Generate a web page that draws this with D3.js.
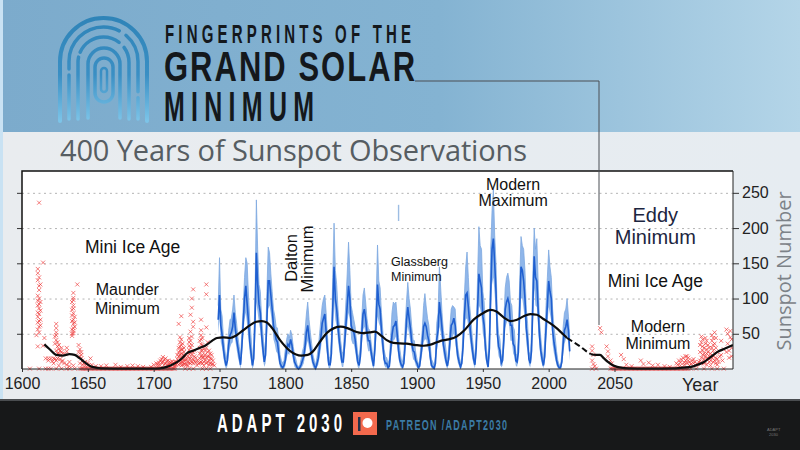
<!DOCTYPE html>
<head>
   <meta charset="utf-8">
   <script src="https://d3js.org/d3.v7.min.js"></script>
   <style>
   html, body{ margin: 0; padding: 0; background: #e9edf0; overflow: hidden; }
   svg{ display: block; }
   text{ font-family: "Liberation Sans", Arial, sans-serif; fill: #111; }
   .tick text{ font-size: 16px; fill: #222; }
   .tick line{ stroke: #333; }
   path.domain{ display: none; }
   .grid line{ stroke: #b4b4b4; stroke-dasharray: 2 3.5; }
   text.note{ text-anchor: middle; }
   text.head{ font-weight: 700; fill: #14181c; }
   </style>
</head>

<body>
   <script>
const width = 800;
const height = 450;

const xTicks = [1600, 1650, 1700, 1750, 1800, 1850, 1900, 1950, 2000, 2050];
const yTicks = [50, 100, 150, 200, 250];

const blueStart = 1749; //first year of the three lists below

//top of the monthly band, one value per year
const sunspotHigh = [90,158,85,75,45,28,14,25,55,70,72,85,105,80,65,45,32,18,50,88,130,158,150,105,70,45,15,35,105,240,170,120,110,72,50,25,40,110,173,165,135,110,85,75,60,58,40,20,12,8,12,28,42,50,44,55,48,32,20,14,6,3,6,14,25,32,55,78,95,70,52,36,20,12,6,16,30,50,70,90,100,105,80,48,18,16,45,130,207,140,120,85,62,40,25,22,60,95,135,180,140,90,80,70,60,40,22,14,35,70,105,115,95,72,58,55,40,25,12,50,100,176,125,115,80,55,28,18,16,8,14,45,80,95,92,95,72,45,28,14,10,22,60,95,123,100,85,60,42,40,24,14,6,12,35,55,90,107,88,72,62,35,14,10,5,18,65,80,145,115,80,55,42,28,10,28,60,85,90,88,85,50,30,18,8,16,55,105,145,166,130,90,70,45,28,14,50,130,202,175,170,110,95,48,25,10,55,170,225,255,190,150,75,50,42,15,22,70,115,130,136,125,95,90,60,55,22,20,45,125,188,175,170,140,85,65,25,18,50,135,200,170,185,125,70,45,25,12,40,90,130,169,145,130,85,60,45,25,12,6,5,20,60,80,85,100,75,45];

//middle of the band, same years
const sunspotMean = [70,105,62,48,28,14,5,12,35,48,52,60,80,58,42,30,18,6,32,65,100,118,92,68,38,22,5,15,70,165,120,92,80,48,28,10,20,70,125,125,105,85,62,52,42,38,22,8,4,2,5,12,28,35,32,42,34,20,10,6,2,0,2,6,12,18,32,52,62,45,32,20,10,5,1,7,15,30,45,65,72,78,52,26,6,6,22,85,145,100,85,60,40,24,10,10,35,62,90,118,100,62,55,52,42,24,10,5,18,48,78,85,72,52,40,40,26,14,4,28,65,120,92,85,55,36,14,8,8,2,4,26,48,60,62,68,48,26,12,6,3,8,35,68,88,72,58,38,26,24,12,8,2,4,20,36,60,65,60,48,40,18,5,3,1,8,42,55,95,78,58,35,24,12,4,14,38,62,65,72,62,34,18,10,3,8,32,75,105,108,88,65,45,28,14,6,30,85,135,125,115,75,62,28,12,3,30,110,170,185,150,110,50,32,26,8,12,42,85,95,100,92,62,62,36,32,12,10,24,85,145,140,125,100,58,40,14,8,26,90,160,130,125,85,48,26,14,5,18,58,90,125,110,100,55,38,26,12,5,2,2,10,35,55,60,70,55,25];

//bottom of the band, same years
const sunspotLow = [50,72,38,30,15,5,0,4,20,30,36,38,55,40,28,16,8,0,18,45,70,80,62,42,22,10,0,5,40,95,80,65,55,30,14,3,8,45,85,90,78,62,42,35,25,22,10,2,0,0,0,4,15,22,20,30,22,10,3,1,0,0,0,1,4,8,18,32,40,30,20,10,3,0,0,2,6,16,28,45,50,52,32,12,1,1,10,50,95,70,60,40,25,12,3,3,20,42,62,80,70,42,36,35,26,12,3,0,8,30,55,60,50,35,25,26,14,6,0,14,42,75,65,60,35,22,6,2,2,0,0,12,30,40,42,46,30,14,5,1,0,2,20,45,60,50,38,24,14,12,5,2,0,0,10,22,38,42,42,32,24,8,1,0,0,2,25,35,60,52,38,22,12,5,0,6,22,42,45,50,42,20,9,4,0,2,18,50,70,72,60,44,28,15,6,1,16,55,90,85,75,50,40,15,5,0,16,70,120,130,105,75,32,18,14,2,5,25,58,65,70,62,40,40,22,18,5,3,12,55,100,100,85,68,36,24,6,2,14,60,115,90,88,58,30,14,6,1,8,38,60,88,78,68,35,22,14,5,1,0,0,4,20,35,42,48,35,12];

//stray piece of the band, above the 1880s cycles
const strayYears = [1886, 1886];
const strayValues = [210, 233];

//smoothed curve
const smoothYears = [1617,1621,1626,1631,1636,1640,1644,1648,1652,1656,1660,1680,1700,1705,1710,1714,1718,1722,1725,1730,1735,1740,1745,1748,1753,1758,1763,1768,1773,1778,1782,1786,1790,1796,1804,1812,1817,1821,1826,1832,1837,1842,1847,1852,1859,1864,1868,1873,1877,1882,1892,1899,1905,1911,1918,1924,1930,1936,1943,1949,1956,1960,1966,1971,1976,1981,1986,1991,1996,2001,2006,2010,2014];
const smoothValues = [35,28,20,19,21,20,15,9,4,2,1,0.5,0.5,1,3,6,10,16,22,26,30,34,41,44,45,44,48,55,62,67,68,66,58,41,25,19,20,25,38,52,58,60,58,54,51,52,53,47,41,37,36,34,33,35,40,42,46,55,70,78,84,82,73,68,70,75,78,77,71,65,58,51,44];

const dashYears = [2014, 2019, 2024, 2028, 2032];
const dashValues = [44, 38, 32, 26, 21];

const lateYears = [2032,2036,2039,2042,2045,2048,2052,2056,2060,2075,2097,2102,2108,2113,2118,2123,2128,2134,2140];
const lateValues = [21,20,20,15,10,6,3,1.5,1,0.5,1,2,3,6,10,17,24,29,34];

//red crosses, [year, sunspot number]
const crossesEarly = [
  [1613,236],[1616,151],[1612,136],[1613,130],[1612,126],[1614,120],[1613,112],[1612,104],[1613,100],[1614,95],[1612,90],[1613,86],[1613,78],[1612,74],[1614,70],[1612,66],[1613,60],[1612,56],[1613,52],[1611,48],[1617,44],[1612,32],[1616,33],
  [1626,64],[1626,58],[1626,52],[1625,46],[1626,41],[1625,36],[1627,32],[1628,28],[1629,26],[1630,24],[1627,22],[1629,19],[1634,30],[1634,25],[1633,21],[1618,15],[1620,15],[1622,15],[1624,15],[1625,14],[1627,15],[1629,14],[1631,12],[1624,8],[1628,5],[1632,8],[1636,10],[1639,5],
  [1642,120],[1639,108],[1639,101],[1638,95],[1639,90],[1638,84],[1639,79],[1640,74],[1638,68],[1639,64],[1640,60],[1638,56],[1639,51],[1638,47],[1643,34],[1644,28],[1643,24],[1645,20],[1645,15],[1646,12],[1644,8],[1647,8],[1648,5],[1652,15],[1650,5],[1656,4],[1660,4],[1664,5],[1671,6],[1675,3],[1680,4],[1684,5],[1688,4],[1692,3],
  [1698,3],[1700,6],[1702,8],[1703,4],[1705,12],[1706,9],[1707,17],[1708,13],[1709,8],[1710,11],[1711,6],[1712,10],[1713,4],[1714,7],[1716,5],
  [1717,10],[1718,14],[1719,24],[1719,18],[1720,45],[1720,38],[1720,32],[1721,28],[1721,22],[1721,15],[1722,20],[1722,10],[1723,16],[1723,7],[1719,64],[1721,75],[1724,12],[1725,6],
  [1727,44],[1727,38],[1727,33],[1727,27],[1727,21],[1728,53],[1728,77],[1728,15],[1729,100],[1729,87],[1729,10],[1730,113],[1730,67],[1730,60],[1730,24],[1731,18],[1732,9],[1733,5],
  [1735,30],[1735,22],[1736,70],[1736,55],[1736,48],[1736,42],[1737,34],[1737,26],[1737,16],[1738,10],[1739,20],[1740,120],[1740,106],[1740,59],[1741,38],[1741,24],[1742,18],[1742,12],[1743,22],[1744,14],[1745,7]
];

//the same clusters where the crosses pile up
const crossesDense = [
  [1612,142],[1613,118],[1612,97],[1613,92],[1614,83],[1612,80],[1613,68],[1614,62],[1639,98],[1639,86],[1638,76],[1639,70],[1640,66],[1639,58],[1639,54],[1638,50],[1626,48],[1627,38],[1628,34],[1630,30],[1631,22],[1626,26],[1628,22],[1620,12],[1623,11],[1626,12],[1630,10],[1634,6],[1636,4],[1644,18],[1645,24],[1646,6],[1648,10],[1650,9],[1653,6],
  [1703,7],[1704,9],[1705,5],[1706,14],[1707,10],[1708,6],[1709,15],[1710,5],[1711,12],[1712,7],[1713,9],[1714,11],[1715,8],[1716,10],[1716,3],[1717,6],[1718,8],[1718,20],[1719,12],[1719,6],[1719,30],[1720,26],[1720,20],[1720,14],[1720,8],[1721,34],[1721,42],[1721,10],[1721,5],[1722,28],[1722,36],[1722,15],[1722,6],[1723,24],[1723,12],[1723,30],[1724,18],[1724,7],[1725,14],[1726,18],[1726,10],[1726,5],[1727,15],[1727,9],[1728,30],[1728,24],[1728,40],[1728,8],[1729,46],[1729,20],[1729,34],[1730,14],[1730,8],[1731,26],[1731,11],[1732,16],[1733,12],[1734,8],[1735,40],[1735,15],[1735,9],[1736,35],[1736,26],[1736,18],[1736,10],[1737,44],[1737,20],[1737,8],[1738,30],[1738,16],[1738,5],[1739,26],[1739,12],[1740,30],[1740,16],[1740,8],[1741,18],[1741,10],[1742,26],[1742,6],[1743,15],[1743,8],[1744,20],[1744,7],[1745,12],[1746,5],
  [2098,6],[2100,9],[2101,13],[2103,6],[2104,12],[2104,18],[2105,8],[2106,16],[2107,10],[2107,5],[2109,12],[2110,8],[2111,10],[2113,7],[2115,12],[2115,24],[2115,34],[2116,16],[2116,8],[2117,42],[2118,30],[2118,22],[2119,36],[2119,18],[2119,10],[2120,40],[2120,14],[2120,6],[2121,34],[2121,24],[2122,30],[2122,18],[2123,22],[2123,12],[2124,30],[2124,16],[2125,44],[2125,10],[2126,36],[2126,22],[2127,16],[2127,8],[2128,24],[2128,14],[2129,10],[2130,18],[2132,12],[2135,24],[2137,16],[2139,42]
];

const crossesLate = [
  [2039,58],[2040,52],[2033,32],[2033,26],[2034,20],[2033,12],[2034,7],[2035,4],[2044,32],[2045,25],[2045,18],[2047,12],[2048,8],[2055,20],[2057,14],[2059,6],[2063,4],[2070,12],[2072,7],[2076,9],[2079,5],[2083,6],[2088,4],[2092,3],
  [2097,8],[2099,12],[2100,5],[2102,16],[2103,9],[2105,18],[2106,12],[2108,7],[2110,14],[2112,5],[2114,10],
  [2116,46],[2116,38],[2117,32],[2117,26],[2117,20],[2118,14],[2118,8],[2119,44],[2120,28],[2120,22],[2121,16],[2122,10],[2123,5],[2124,48],[2124,40],[2125,34],[2125,26],[2125,18],[2126,52],[2126,12],[2127,44],[2127,30],[2128,6],[2131,40],[2131,20],[2133,28],[2135,56],[2136,50],[2136,36],[2137,26],[2138,54],[2138,45],[2139,18],[2139,30]
];

//crosses lying on the axis
const crossesZero = [1606,1613,1618,1620,1622,1626,1630,1634,1636,1640,1644,1645,1646,1647,1648,1649,1650,1651,1652,1653,1654,1655,1656,1657,1658,1659,1660,1661,1662,1663,1664,1665,1666,1667,1668,1669,1670,1671,1672,1673,1674,1675,1676,1677,1678,1679,1680,1681,1682,1683,1684,1685,1686,1687,1688,1689,1690,1691,1692,1693,1694,1695,1696,1697,1698,1699,1700,1701,1702,1703,1704,1705,1706,1707,1708,1709,1710,1711,1712,1713,1714,1715,1716,1724,1727,1730,1737,1740,1743,2033,2036,2047,2048,2049,2050,2051,2052,2053,2054,2055,2056,2057,2058,2059,2060,2061,2062,2063,2064,2065,2066,2067,2068,2069,2070,2071,2072,2073,2074,2075,2076,2077,2078,2079,2080,2081,2082,2083,2084,2085,2086,2087,2088,2089,2090,2091,2092,2093,2094,2095,2096,2097,2098,2099,2100,2101,2102,2103,2104,2105,2106,2108,2112,2118,2124,2128,2133];

//text on the plot: label lines, year, value of each baseline
const notes = [
  {text: "Mini Ice Age", year: 1684, value: 165, size: 17.5},
  {text: "Maunder", year: 1680, value: 105, size: 16},
  {text: "Minimum", year: 1680, value: 78, size: 16},
  {text: "Modern", year: 1973, value: 254, size: 16},
  {text: "Maximum", year: 1973, value: 231, size: 16},
  {text: "Eddy", year: 2081, value: 208, size: 20, color: "#1c2540"},
  {text: "Minimum", year: 2081, value: 178, size: 20, color: "#1c2540"},
  {text: "Mini Ice Age", year: 2081, value: 117, size: 17.5},
  {text: "Modern", year: 2083, value: 52, size: 16},
  {text: "Minimum", year: 2083, value: 28, size: 16}
];

let svg = d3.select("body").append("svg")
   .attr("width", width)
   .attr("height", height);

const defs = svg.append("defs");

const headGrad = defs.append("linearGradient").attr("id", "headGrad");
headGrad.append("stop").attr("offset", "0%").attr("stop-color", "#7cabcc");
headGrad.append("stop").attr("offset", "55%").attr("stop-color", "#84b3d2");
headGrad.append("stop").attr("offset", "100%").attr("stop-color", "#b4d5e8");

const pageGrad = defs.append("linearGradient").attr("id", "pageGrad");
pageGrad.append("stop").attr("offset", "0%").attr("stop-color", "#e9ecef");
pageGrad.append("stop").attr("offset", "100%").attr("stop-color", "#e6ecf1");

const printGrad = defs.append("linearGradient").attr("id", "printGrad")
   .attr("gradientUnits", "userSpaceOnUse")
   .attr("x1", 0).attr("x2", 0).attr("y1", 18).attr("y2", 121);
printGrad.append("stop").attr("offset", "0%").attr("stop-color", "#2f84b8");
printGrad.append("stop").attr("offset", "55%").attr("stop-color", "#3a8fc4");
printGrad.append("stop").attr("offset", "100%").attr("stop-color", "#7cc4e8");

// page bands
svg.append("rect").attr("width", width).attr("height", 400).attr("fill", "url(#pageGrad)");
svg.append("rect").attr("width", width).attr("height", 132).attr("fill", "url(#headGrad)");
svg.append("rect").attr("width", 3).attr("height", 400).attr("fill", "#c9e2f3");
svg.append("rect").attr("y", 401).attr("width", width).attr("height", 49).attr("fill", "#171819");
svg.append("rect").attr("y", 399).attr("width", width).attr("height", 2).attr("fill", "#4a4d50");

// fingerprint logo, nested arches
const logo = svg.append("g")
   .attr("fill", "none")
   .attr("stroke", "url(#printGrad)")
   .attr("stroke-linecap", "round");

[[60,18,87,103,4,"0"],[69,27,69,92,3.5,"44 6 78 8 60 6 200"],[78,37,51,82,3.5,"62 5 46 7 200"],[88,48,32,70,3.5,"0"]].forEach(d => {
   logo.append("path")
      .attr("d", `M${d[0]},${d[1]+d[3]} V${d[1]+d[2]/2} a${d[2]/2},${d[2]/2} 0 0 1 ${d[2]},0 V${d[1]+d[3]}`)
      .attr("stroke-width", d[4])
      .attr("stroke-dasharray", d[5] == "0" ? null : d[5]);
});
logo.append("rect").attr("x", 95).attr("y", 58).attr("width", 18).attr("height", 44).attr("rx", 9).attr("stroke-width", 3.5);
logo.append("rect").attr("x", 101).attr("y", 68).attr("width", 6).attr("height", 24).attr("rx", 3).attr("stroke-width", 2.5);

// heading, the font is squeezed to get the tall narrow letters
function squeezed(txt, left, base, size, scale, wide, weight, color){
   svg.append("text")
      .attr("class", "head")
      .attr("transform", `translate(${left},${base}) scale(${scale},1)`)
      .attr("textLength", wide / scale)
      .attr("lengthAdjust", "spacing")
      .style("font-size", size + "px")
      .style("font-weight", weight)
      .style("fill", color)
      .text(txt);
}
squeezed("FINGERPRINTS OF THE", 165, 43, 25, 0.6, 246, 700, "#14181c");
squeezed("GRAND SOLAR", 164, 81, 43, 0.72, 251, 700, "#14181c");
squeezed("MINIMUM", 164, 121, 43, 0.58, 150, 700, "#14181c");

svg.append("text")
   .attr("x", 60).attr("y", 161)
   .style("font-family", '"Open Sans", sans-serif')
   .style("font-size", "29px")
   .style("fill", "#565d62")
   .attr("textLength", 467)
   .text("400 Years of Sunspot Observations");

const margin = {top: 171, right: 67, bottom: 81, left: 22};

const x = d3.scaleLinear()
   .domain([1600, 2140])
   .range([margin.left, width - margin.right]);

const y = d3.scaleLinear()
   .domain([0, 281])
   .range([height - margin.bottom, margin.top]);

// plot area
svg.append("rect")
   .attr("x", margin.left).attr("y", margin.top)
   .attr("width", width - margin.left - margin.right)
   .attr("height", height - margin.top - margin.bottom)
   .attr("fill", "#fff");

defs.append("clipPath").attr("id", "plotClip").append("rect")
   .attr("x", margin.left).attr("y", margin.top)
   .attr("width", width - margin.left - margin.right)
   .attr("height", height - margin.top - margin.bottom + 2);

svg.append("g")
   .attr("class", "grid")
   .attr("transform", `translate(${margin.left},0)`)
   .call(d3.axisLeft(y).tickValues(yTicks).tickSize(-(width - margin.left - margin.right)).tickFormat(""));

const chart = svg.append("g").attr("clip-path", "url(#plotClip)");

// red crosses
const crossShape = "M-2,-2L2,2M-2,2L2,-2";
const allCrosses = crossesEarly.concat(crossesDense, crossesLate, crossesZero.map(d => [d, 0.5]));
chart.selectAll("path.cross")
   .data(allCrosses)
   .enter()
   .append("path")
   .attr("class", "cross")
   .attr("d", crossShape)
   .attr("transform", d => `translate(${x(d[0])},${y(d[1])})`)
   .attr("fill", "none")
   .attr("stroke", "#ee3535")
   .attr("stroke-width", 1)
   .attr("opacity", 0.65);

// blue band
const yearOf = i => blueStart + i;

chart.append("path")
   .datum(sunspotHigh)
   .attr("fill", "#8fb6ea")
   .attr("d", d3.area()
      .defined((d, i) => sunspotLow[i] != null)
      .x((d, i) => x(yearOf(i)))
      .y0((d, i) => y(sunspotLow[i]))
      .y1(d => y(d)));

chart.append("path")
   .datum(sunspotHigh)
   .attr("fill", "none")
   .attr("stroke", "#7da8e0")
   .attr("stroke-width", 0.8)
   .attr("d", d3.line().x((d, i) => x(yearOf(i))).y(d => y(d)));

chart.append("path")
   .datum(sunspotMean)
   .attr("fill", "none")
   .attr("stroke", "#1f5fd0")
   .attr("stroke-width", 1.6)
   .attr("d", d3.line().x((d, i) => x(yearOf(i))).y(d => y(d)));

chart.append("path")
   .datum(strayYears)
   .attr("fill", "none")
   .attr("stroke", "#9dbde3")
   .attr("stroke-width", 1.4)
   .attr("d", d3.line().x(d => x(d)).y((d, i) => y(strayValues[i])));

// smoothed curve
const curveLine = d3.line()
   .curve(d3.curveMonotoneX)
   .x(d => x(d[0]))
   .y(d => y(d[1]));

chart.append("path")
   .datum(d3.zip(smoothYears, smoothValues))
   .attr("fill", "none").attr("stroke", "#0d0d0d").attr("stroke-width", 2.2)
   .attr("d", curveLine);

chart.append("path")
   .datum(d3.zip(dashYears, dashValues))
   .attr("fill", "none").attr("stroke", "#0d0d0d").attr("stroke-width", 2)
   .attr("stroke-dasharray", "6 3")
   .attr("d", curveLine);

chart.append("path")
   .datum(d3.zip(lateYears, lateValues))
   .attr("fill", "none").attr("stroke", "#0d0d0d").attr("stroke-width", 2.2)
   .attr("d", curveLine);

// axes
svg.append("g")
   .attr("transform", `translate(0,${height - margin.bottom})`)
   .call(d3.axisBottom(x).tickValues(xTicks).tickSize(3).tickPadding(6).tickFormat(d3.format("d")));

svg.append("g")
   .attr("transform", `translate(${margin.left},0)`)
   .call(d3.axisLeft(y).tickValues(yTicks).tickSize(5).tickFormat(""));

svg.append("g")
   .attr("transform", `translate(${width - margin.right},0)`)
   .call(d3.axisRight(y).tickValues(yTicks).tickSize(6).tickPadding(3));

// plot frame
svg.append("path")
   .attr("d", `M${margin.left},${height - margin.bottom}V${margin.top}H${width - margin.right}`)
   .attr("fill", "none").attr("stroke", "#111").attr("stroke-width", 1.5);
svg.append("path")
   .attr("d", `M${margin.left},${height - margin.bottom}H${width - margin.right}V${margin.top}`)
   .attr("fill", "none").attr("stroke", "#222").attr("stroke-width", 1);

// connector from the heading
svg.append("path")
   .attr("d", "M415,81H599V325")
   .attr("fill", "none").attr("stroke", "#4a4f55").attr("stroke-width", 1);

// notes
svg.selectAll("text.note")
   .data(notes)
   .enter()
   .append("text")
   .attr("class", "note")
   .attr("x", d => x(d.year))
   .attr("y", d => y(d.value))
   .style("font-size", d => d.size + "px")
   .style("fill", d => d.color || "#111")
   .text(d => d.text);

svg.append("text").attr("class", "note")
   .attr("transform", `translate(297,258) rotate(-90)`)
   .style("font-size", "16.5px").text("Dalton");
svg.append("text").attr("class", "note")
   .attr("transform", `translate(313,259) rotate(-90)`)
   .style("font-size", "16.5px").text("Minimum");

svg.append("text").attr("x", 391).attr("y", 266).style("font-size", "12.5px").text("Glassberg");
svg.append("text").attr("x", 391).attr("y", 281).style("font-size", "12.5px").text("Minimum");

svg.append("text").attr("x", 682).attr("y", 391).style("font-size", "18px").style("fill", "#222").text("Year");

svg.append("text")
   .attr("transform", "translate(791,271) rotate(-90)")
   .attr("text-anchor", "middle")
   .style("font-family", '"Open Sans", sans-serif')
   .style("font-size", "20px")
   .style("fill", "#7c8288")
   .text("Sunspot Number");

// footer
squeezed("ADAPT 2030", 217, 432, 25, 0.6, 125, 700, "#fff");

svg.append("rect").attr("x", 353).attr("y", 412).attr("width", 24).attr("height", 23).attr("fill", "#f3694d");
svg.append("rect").attr("x", 358).attr("y", 417).attr("width", 2.5).attr("height", 14).attr("fill", "#26324a");
svg.append("circle").attr("cx", 367.5).attr("cy", 423).attr("r", 5).attr("fill", "#fff");

squeezed("PATREON /ADAPT2030", 386, 430, 15, 0.6, 121, 700, "#3b7ba5");

svg.append("text").attr("x", 767).attr("y", 431)
   .style("font-size", "4px").style("fill", "#777")
   .text("ADAPT");
svg.append("text").attr("x", 769).attr("y", 436)
   .style("font-size", "4px").style("fill", "#777")
   .text("2030");
   </script>
</body>
